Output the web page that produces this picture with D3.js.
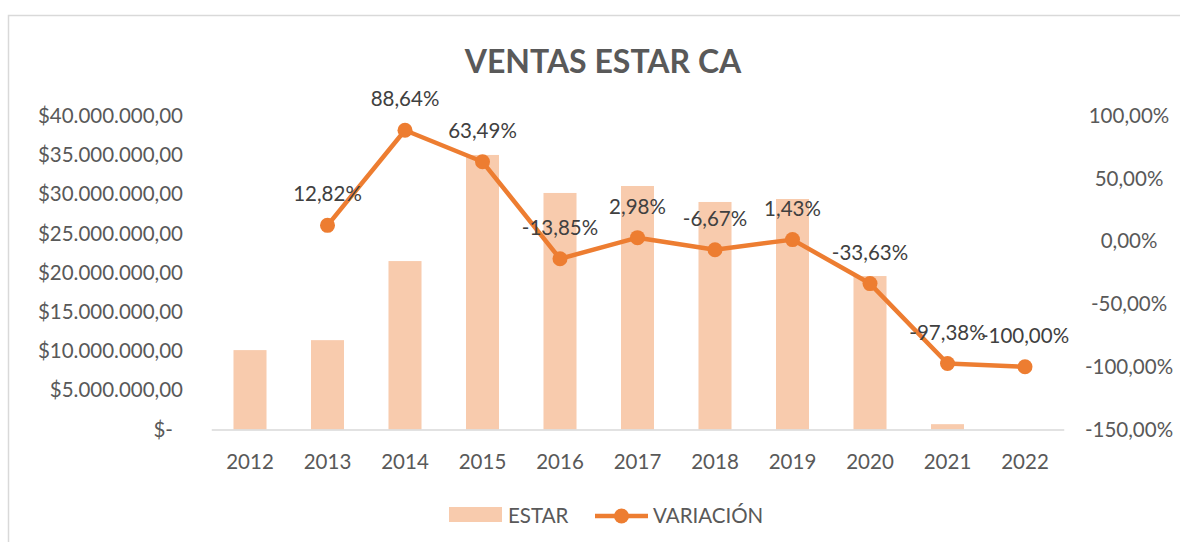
<!DOCTYPE html>
<html><head><meta charset="utf-8">
<script src="https://cdn.jsdelivr.net/npm/d3@7"></script>
<style>
html,body{margin:0;padding:0;background:#fff;}
svg{display:block;font-family:Lato,"Open Sans",sans-serif;}
</style></head>
<body><svg id="c" width="1180" height="542"></svg>
<script>
const years = ["2012","2013","2014","2015","2016","2017","2018","2019","2020","2021","2022"];
const estar = [10130000,11400000,21490000,35030000,30180000,31070000,29030000,29410000,19580000,680000,0];
const variacion = [null,12.82,88.64,63.49,-13.85,2.98,-6.67,1.43,-33.63,-97.38,-100.00];
const leftTicks = [0,5e6,10e6,15e6,20e6,25e6,30e6,35e6,40e6];
const rightTicks = [-150,-100,-50,0,50,100];
const title = "VENTAS ESTAR CA";
const seriesNames = ["ESTAR","VARIACIÓN"];

const svg = d3.select("#c");
const barColor = "#F8CBAD", lineColor = "#ED7D31", txt = "#595959", lbl = "#404040";
const FS = 20.5;

svg.append("rect").attr("x",8.5).attr("y",15.5).attr("width",1200).attr("height",600)
  .attr("fill","none").attr("stroke","#d9d9d9").attr("stroke-width",1.5);

const x = d3.scaleBand().domain(years).range([211.25,1063.75]).paddingInner(0.574).paddingOuter(0.287);
const yL = d3.scaleLinear().domain([0,40e6]).range([429.5,116]);
const yR = d3.scaleLinear().domain([-150,100]).range([429.5,116]);

const loc = d3.formatLocale({decimal:",",thousands:".",grouping:[3],currency:["$",""],percent:"%",minus:"-"});
const fMoney = loc.format("$,.2f");
const fPct = loc.format(",.2f");

svg.append("text").attr("x",603).attr("y",73).attr("text-anchor","middle")
  .attr("font-size",32).attr("font-weight","bold").attr("fill",txt).text(title);

// left axis
const gL = svg.append("g").attr("transform","translate(183,0)")
  .call(d3.axisLeft(yL).tickValues(leftTicks).tickSize(0).tickPadding(0)
    .tickFormat(d=> d===0 ? "$-" : fMoney(d)));
gL.select(".domain").remove();
gL.selectAll("text").attr("font-size",FS).attr("fill",txt).attr("font-family","Lato")
  .attr("dx", d=> d===0 ? -10 : 0);

// right axis
const gR = svg.append("g").attr("transform","translate(1129,0)")
  .call(d3.axisRight(yR).tickValues(rightTicks).tickSize(0).tickPadding(0)
    .tickFormat(d=> fPct(d)+"%"));
gR.select(".domain").remove();
gR.selectAll("text").attr("font-size",FS).attr("fill",txt).attr("font-family","Lato").attr("text-anchor","middle");

// bars
svg.append("g").selectAll("rect").data(years).join("rect")
  .attr("x",d=>x(d)).attr("width",x.bandwidth())
  .attr("y",(d,i)=>yL(estar[i])).attr("height",(d,i)=>yL(0)-yL(estar[i]))
  .attr("fill",barColor);

// x axis
const gX = svg.append("g").attr("transform","translate(0,429.5)")
  .call(d3.axisBottom(x).tickSize(0).tickPadding(25));
gX.select(".domain").attr("stroke","#d9d9d9").attr("stroke-width",1.5);
gX.selectAll("text").attr("font-size",FS).attr("fill",txt).attr("font-family","Lato");

// line
const pts = years.map((d,i)=>({y:d,v:variacion[i]})).filter(p=>p.v!==null);
const line = d3.line().x(p=>x(p.y)+x.bandwidth()/2).y(p=>yR(p.v));
svg.append("path").datum(pts).attr("d",line).attr("fill","none")
  .attr("stroke",lineColor).attr("stroke-width",4.5).attr("stroke-linejoin","round");
svg.append("g").selectAll("circle").data(pts).join("circle")
  .attr("cx",p=>x(p.y)+x.bandwidth()/2).attr("cy",p=>yR(p.v)).attr("r",7.5).attr("fill",lineColor);

// data labels
svg.append("g").selectAll("text").data(pts).join("text")
  .attr("x",p=>x(p.y)+x.bandwidth()/2).attr("y",p=>yR(p.v)-31).attr("dy","0.35em")
  .attr("text-anchor","middle").attr("font-size",FS).attr("fill",lbl)
  .text(p=>fPct(p.v)+"%");

// legend
const lg = svg.append("g");
lg.append("rect").attr("x",449).attr("y",507).attr("width",53).attr("height",15).attr("fill",barColor);
lg.append("text").attr("x",508).attr("y",516).attr("dy","0.35em").attr("font-size",FS).attr("fill",txt).text(seriesNames[0]);
lg.append("line").attr("x1",595).attr("x2",648).attr("y1",516).attr("y2",516).attr("stroke",lineColor).attr("stroke-width",4.5);
lg.append("circle").attr("cx",621.5).attr("cy",516).attr("r",7.5).attr("fill",lineColor);
lg.append("text").attr("x",653).attr("y",516).attr("dy","0.35em").attr("font-size",FS).attr("fill",txt).text(seriesNames[1]);
</script></body></html>
